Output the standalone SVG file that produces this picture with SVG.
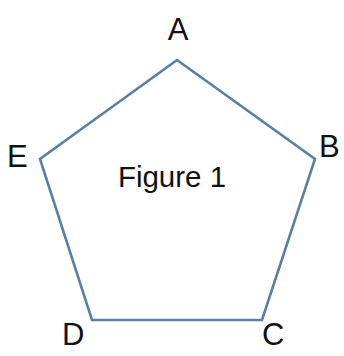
<svg xmlns="http://www.w3.org/2000/svg" width="344" height="356" viewBox="0 0 344 356">
<style>
.lbl{font-family:"Liberation Sans",Arial,sans-serif;font-size:31px;fill:#111}
.edge{fill:none;stroke:#5a7ea6;stroke-width:2.6;stroke-linejoin:miter}
</style>
<rect width="344" height="356" fill="#fff"/>
<g id="connectors">
<polygon class="edge" points="177,60 315,159 262,320 92,320 40,159"/>
</g>
<g id="A"><text class="lbl" x="178" y="40" text-anchor="middle">A</text></g>
<g id="B"><text class="lbl" x="319" y="157">B</text></g>
<g id="C"><text class="lbl" x="262" y="345">C</text></g>
<g id="D"><text class="lbl" x="62" y="345">D</text></g>
<g id="E"><text class="lbl" x="7" y="167">E</text></g>
<g id="fig"><text class="lbl" x="172" y="187" text-anchor="middle" style="font-size:29.5px">Figure 1</text></g>
</svg>
